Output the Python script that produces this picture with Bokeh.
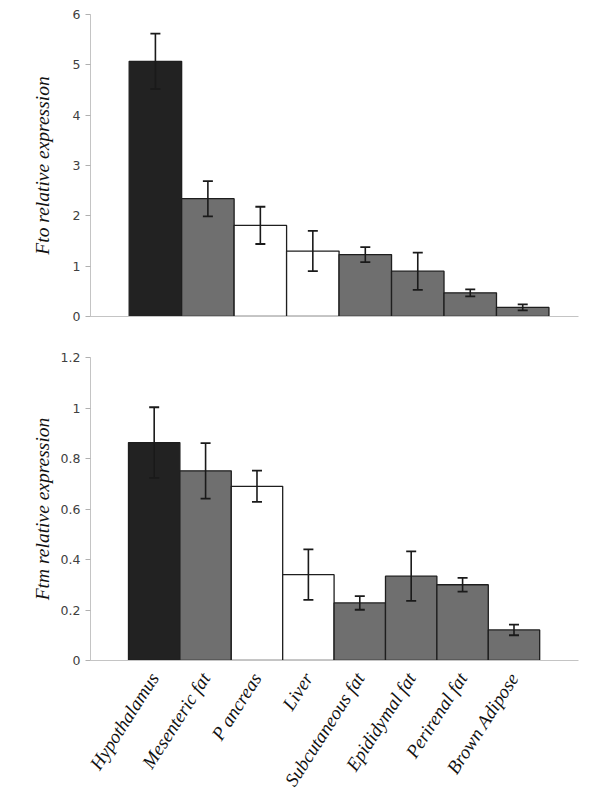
from bokeh.plotting import figure
from bokeh.layouts import column
from bokeh.models import ColumnDataSource, Whisker, TeeHead, FixedTicker, NumeralTickFormatter, Label, Range1d
from bokeh.embed import file_html
from bokeh.resources import INLINE

tissues = ["Hypothalamus", "Mesenteric fat", "P ancreas", "Liver", "Subcutaneous fat",
           "Epididymal fat", "Perirenal fat", "Brown Adipose"]
fto_mean = [5.07, 2.34, 1.81, 1.30, 1.23, 0.90, 0.47, 0.18]
fto_err = [0.55, 0.35, 0.37, 0.40, 0.15, 0.37, 0.07, 0.06]
ftm_mean = [0.863, 0.751, 0.690, 0.340, 0.228, 0.334, 0.300, 0.121]
ftm_err = [0.14, 0.11, 0.062, 0.10, 0.027, 0.098, 0.027, 0.021]
fto_ticks = [0, 1, 2, 3, 4, 5, 6]
ftm_ticks = [0, 0.2, 0.4, 0.6, 0.8, 1.0, 1.2]

fills = ["#222222", "#6f6f6f", "#ffffff", "#ffffff", "#6f6f6f", "#6f6f6f", "#6f6f6f", "#6f6f6f"]

SERIF = "Liberation Serif"
TICKFONT = "DejaVu Sans"


def make_panel(means, errs, ticks, ymax, xr, ylabel, width, height, borders, label_fmt, standoff):
    xs = list(range(len(means)))
    src = ColumnDataSource(dict(x=xs, top=means, lower=[m - e for m, e in zip(means, errs)],
                                upper=[m + e for m, e in zip(means, errs)], fill=fills))
    p = figure(width=width, height=height, output_backend="svg", toolbar_location=None,
               x_range=Range1d(*xr), y_range=Range1d(0, ymax),
               min_border_left=borders[0], min_border_right=borders[1],
               min_border_top=borders[2], min_border_bottom=borders[3])
    p.outline_line_color = None
    p.grid.visible = False
    p.background_fill_color = "white"
    p.border_fill_color = "white"
    p.vbar(x="x", top="top", bottom=0, width=1.0, source=src, fill_color="fill",
           line_color="#1e1e1e", line_width=1.3)
    w = Whisker(base="x", upper="upper", lower="lower", source=src, level="overlay",
                line_color="#1a1a1a", line_width=1.6,
                upper_head=TeeHead(size=10, line_color="#1a1a1a", line_width=1.8),
                lower_head=TeeHead(size=10, line_color="#1a1a1a", line_width=1.8))
    p.add_layout(w)
    ya = p.yaxis[0]
    ya.ticker = FixedTicker(ticks=ticks)
    ya.formatter = NumeralTickFormatter(format=label_fmt)
    ya.axis_line_color = "#c4c4c4"
    ya.major_tick_line_color = "#b0b0b0"
    ya.major_tick_out = 5
    ya.major_tick_in = 0
    ya.minor_tick_line_color = None
    ya.major_label_text_font = TICKFONT
    ya.major_label_text_font_size = "12.5px"
    ya.major_label_text_color = "#404040"
    ya.major_label_standoff = 5
    ya.axis_label = ylabel
    ya.axis_label_text_font = SERIF
    ya.axis_label_text_font_style = "italic"
    ya.axis_label_text_font_size = "19.5px"
    ya.axis_label_text_color = "#111111"
    ya.axis_label_standoff = standoff
    xa = p.xaxis[0]
    xa.axis_line_color = "#c4c4c4"
    xa.major_tick_line_color = None
    xa.minor_tick_line_color = None
    return p


p1 = make_panel(fto_mean, fto_err, fto_ticks, 6, (-1.237, 8.063), "Fto relative expression",
                600, 338, (88, 20, 14, 22), "0", 17)
p1.xaxis[0].ticker = FixedTicker(ticks=[])

p2 = make_panel(ftm_mean, ftm_err, ftm_ticks, 1.2, (-1.239, 8.255), "Ftm relative expression",
                600, 460, (90, 22, 19, 136), "0.[0]", 5)
xa = p2.xaxis[0]
xa.ticker = FixedTicker(ticks=list(range(len(tissues))))
xa.major_label_overrides = {i: t for i, t in enumerate(tissues)}
xa.major_label_orientation = 1.0
xa.major_label_text_font = SERIF
xa.major_label_text_font_style = "italic"
xa.major_label_text_font_size = "19px"
xa.major_label_text_color = "#111111"
xa.major_label_standoff = 8

p2.add_layout(Label(x=-2.35, y=-0.20, text="Tissue", text_font=SERIF, text_font_style="bold",
                    text_font_size="18px", text_align="center", text_baseline="middle",
                    text_color="#111111"))

layout = column(p1, p2, spacing=0)
open("out.html", "w").write(file_html(layout, INLINE))
